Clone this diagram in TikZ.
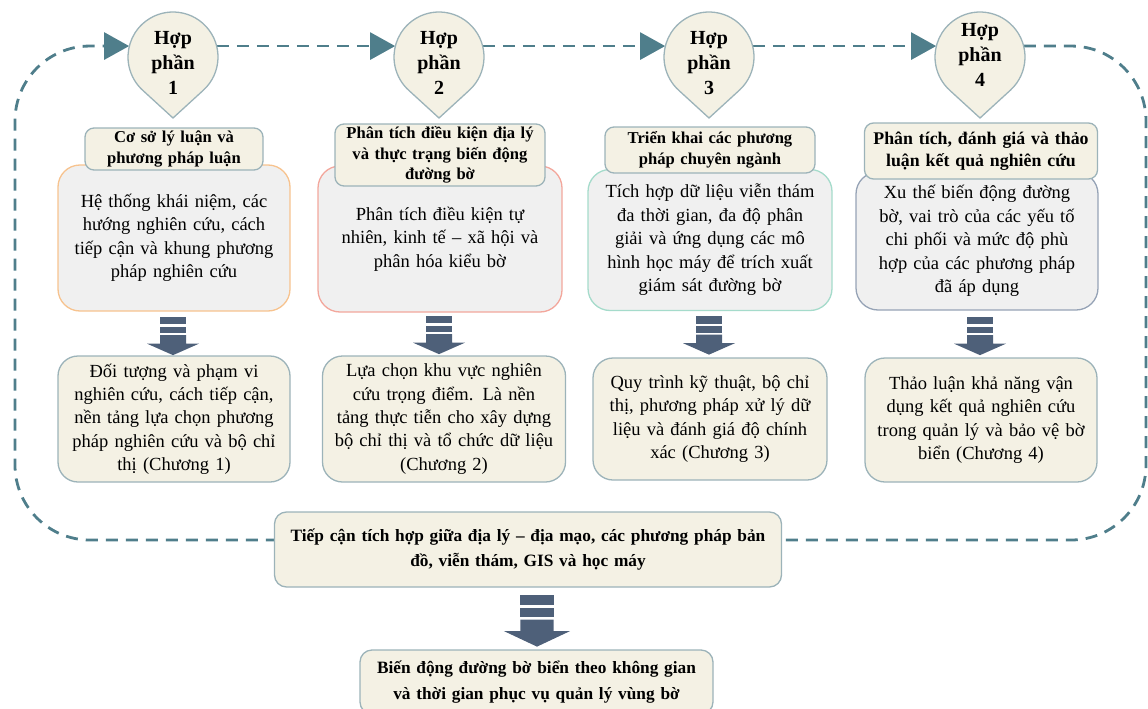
\documentclass[tikz,border=0pt]{standalone}
\usepackage{fontspec}
\setmainfont{Liberation Serif}
\usetikzlibrary{arrows.meta,calc}

\definecolor{cream}{HTML}{F4F1E4}
\definecolor{paleGrey}{HTML}{F0F0F0}
\definecolor{edgeBlue}{HTML}{9CB3B9}
\definecolor{loopTeal}{HTML}{4F7E8B}
\definecolor{arrowSlate}{HTML}{4E6079}
\definecolor{edgeOrange}{HTML}{F7C38F}
\definecolor{edgeSalmon}{HTML}{F3A79C}
\definecolor{edgeMint}{HTML}{A5DBCB}
\definecolor{edgeSlate}{HTML}{96A3B6}

\tikzset{
  barrow/.pic={
    \fill[arrowSlate] (-13,0) rectangle (13,7.7);
    \fill[arrowSlate] (-13,10) rectangle (13,16.7);
    \fill[arrowSlate] (-13,18.5) -- (13,18.5) -- (13,27) -- (26,27)
      -- (0,38.5) -- (-26,27) -- (-13,27) -- cycle;
  }
}

\begin{document}
\begin{tikzpicture}[x=1pt,y=-1pt,
  pinbody/.style={fill=cream, draw=edgeBlue, line width=1.3pt},
  pinring/.style={circle, minimum size=90pt, inner sep=0pt},
  pintext/.style={font=\fontsize{20}{25}\selectfont\bfseries, align=center, inner sep=0pt},
  headbox/.style={rectangle, rounded corners=9pt, fill=cream, draw=edgeBlue,
    line width=1.3pt, font=\fontsize{16.6}{20.5}\selectfont\bfseries, align=center, inner sep=2pt},
  topcard/.style={rectangle, rounded corners=22pt, fill=paleGrey, line width=1.3pt,
    font=\fontsize{18.5}{23.5}\selectfont, align=center, inner sep=4pt},
  lowcard/.style={rectangle, rounded corners=20pt, fill=cream, draw=edgeBlue,
    line width=1.3pt, font=\fontsize{18.5}{23.3}\selectfont, align=center, inner sep=4pt},
  bigcard/.style={rectangle, rounded corners=12pt, fill=cream, draw=edgeBlue,
    line width=1.3pt, font=\fontsize{17.3}{25.5}\selectfont\bfseries, align=center, inner sep=4pt},
  loopline/.style={draw=loopTeal, line width=2.8pt, dash pattern=on 12pt off 8pt},
  looptip/.style={-{Triangle[length=25pt,width=27pt]}}
]
\useasboundingbox (0,0) rectangle (1148,709);

% component markers (outline circles carry the anchors)
\node[pinring] (p1) at (173,57) {};
\node[pinring] (p2) at (439,57) {};
\node[pinring] (p3) at (709,57) {};
\node[pinring] (p4) at (980,57) {};

% dashed cycle linking the four components
\coordinate (ne) at (1146,46);
\coordinate (se) at (1146,540);
\coordinate (sw) at (15,540);
\coordinate (nw) at (15,46);
\draw[loopline, looptip, rounded corners=75pt]
  (p4.14) -- (ne) -- (se) -- (sw) -- (nw) -- (p1.166);
\draw[loopline, looptip] (p1.14) -- (p2.166);
\draw[loopline, looptip] (p2.14) -- (p3.166);
\draw[loopline, looptip] (p3.14) -- (p4.166);

% teardrop markers
\foreach \p in {p1,p2,p3,p4}{
  \path[pinbody] ($(\p.center)+(0,61)$) -- ($(\p.center)+(47.5:45)$)
    arc[start angle=47.5, end angle=-227.5, radius=45] -- cycle;
}
\node[pintext] (t1) at ($(p1.center)+(0,6)$) {Hợp\\phần\\1};
\node[pintext] (t2) at ($(p2.center)+(0,6)$) {Hợp\\phần\\2};
\node[pintext] (t3) at ($(p3.center)+(0,6)$) {Hợp\\phần\\3};
\node[pintext] (t4) at ($(p4.center)+(0,-2)$) {Hợp\\phần\\4};

% upper content cards
\node[topcard, draw=edgeOrange, minimum width=232pt, minimum height=146pt, text width=222pt]
  (u1) at (174,238) {Hệ thống khái niệm, các\\hướng nghiên cứu, cách\\tiếp cận và khung phương\\pháp nghiên cứu};
\node[topcard, draw=edgeSalmon, minimum width=244pt, minimum height=146pt, text width=234pt]
  (u2) at (440,239) {Phân tích điều kiện tự\\nhiên, kinh tế – xã hội và\\phân hóa kiểu bờ};
\node[topcard, draw=edgeMint, minimum width=244pt, minimum height=141pt, text width=234pt]
  (u3) at (710,240) {Tích hợp dữ liệu viễn thám\\đa thời gian, đa độ phân\\giải và ứng dụng các mô\\hình học máy để trích xuất\\giám sát đường bờ};
\node[topcard, draw=edgeSlate, minimum width=242pt, minimum height=138pt, text width=232pt]
  (u4) at (977,241) {Xu thế biến động đường\\bờ, vai trò của các yếu tố\\chi phối và mức độ phù\\hợp của các phương pháp\\đã áp dụng};

% header tabs
\node[headbox, minimum width=178pt, minimum height=42pt, text width=172pt]
  (h1) at (174,149) {Cơ sở lý luận và\\phương pháp luận};
\node[headbox, minimum width=210pt, minimum height=62pt, text width=204pt]
  (h2) at (440,155) {Phân tích điều kiện địa lý\\và thực trạng biến động\\đường bờ};
\node[headbox, minimum width=210pt, minimum height=46pt, text width=204pt]
  (h3) at (710,150) {Triển khai các phương\\pháp chuyên ngành};
\node[headbox, font=\fontsize{17.8}{22}\selectfont\bfseries,
  minimum width=233pt, minimum height=56pt, text width=227pt]
  (h4) at (981,151) {Phân tích, đánh giá và thảo\\luận kết quả nghiên cứu};

% lower result cards
\node[lowcard, minimum width=232pt, minimum height=126pt, text width=222pt]
  (l1) at (174,419) {Đối tượng và phạm vi\\nghiên cứu, cách tiếp cận,\\nền tảng lựa chọn phương\\pháp nghiên cứu và bộ chỉ\\thị (Chương 1)};
\node[lowcard, minimum width=243pt, minimum height=126pt, text width=233pt]
  (l2) at (444,419) {Lựa chọn khu vực nghiên\\cứu trọng điểm. Là nền\\tảng thực tiễn cho xây dựng\\bộ chỉ thị và tổ chức dữ liệu\\(Chương 2)};
\node[lowcard, minimum width=234pt, minimum height=122pt, text width=224pt]
  (l3) at (710,419) {Quy trình kỹ thuật, bộ chỉ\\thị, phương pháp xử lý dữ\\liệu và đánh giá độ chính\\xác (Chương 3)};
\node[lowcard, minimum width=232pt, minimum height=124pt, text width=222pt]
  (l4) at (981,420) {Thảo luận khả năng vận\\dụng kết quả nghiên cứu\\trong quản lý và bảo vệ bờ\\biển (Chương 4)};

% block arrows from each content card to its result
\pic at ($(p1 |- u1.south)+(0,5)$) {barrow};
\pic at ($(p2 |- u2.south)+(0,3)$) {barrow};
\pic at ($(p3 |- u3.south)+(0,5)$) {barrow};
\pic at ($(p4 |- u4.south)+(0,6)$) {barrow};

% integrated approach and final outcome
\node[bigcard, minimum width=507pt, minimum height=75pt, text width=497pt]
  (b) at (528,549.5) {Tiếp cận tích hợp giữa địa lý – địa mạo, các phương pháp bản\\đồ, viễn thám, GIS và học máy};
\node[bigcard, minimum width=353pt, minimum height=64pt, text width=343pt]
  (f) at (536.5,682) {Biến động đường bờ biển theo không gian\\và thời gian phục vụ quản lý vùng bờ};
\pic[xscale=1.27, yscale=1.35] at ($(b.south)+(9,7)$) {barrow};
\end{tikzpicture}
\end{document}
